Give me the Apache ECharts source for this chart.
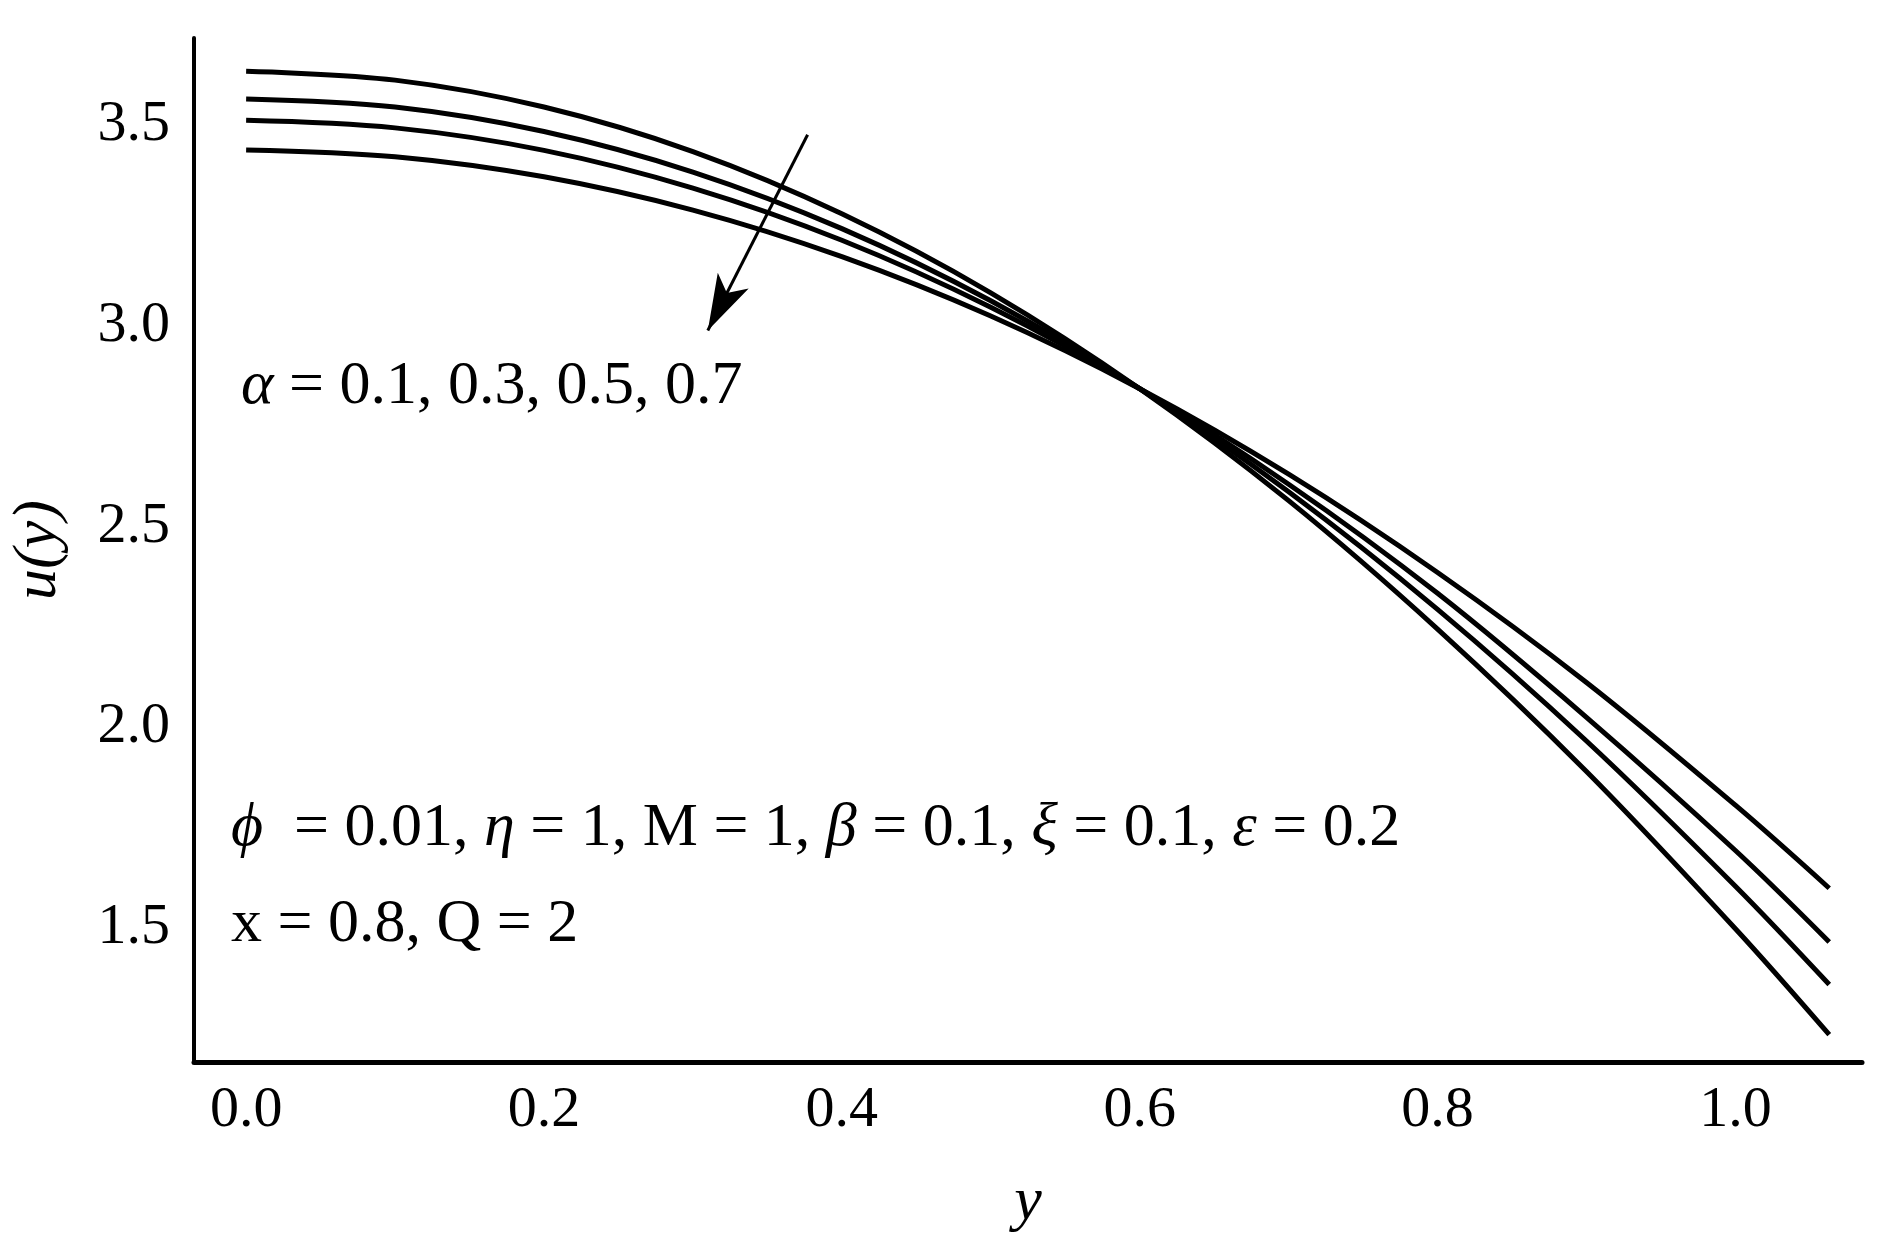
<!DOCTYPE html>
<html><head><meta charset="utf-8">
<script src="https://cdn.jsdelivr.net/npm/echarts@6/dist/echarts.min.js"></script>
<style>html,body{margin:0;background:#fff}#main{width:1877px;height:1239px}</style>
</head><body><div id="main"></div>
<script>
var yVals = [0, 0.1, 0.2, 0.3, 0.4, 0.5, 0.6, 0.7, 0.8, 0.9, 1.0, 1.063];
var uA01 = [3.634, 3.612, 3.545, 3.434, 3.279, 3.082, 2.843, 2.564, 2.244, 1.889, 1.497, 1.233];
var uA03 = [3.565, 3.545, 3.484, 3.383, 3.242, 3.062, 2.843, 2.586, 2.293, 1.965, 1.603, 1.358];
var uA05 = [3.512, 3.493, 3.437, 3.343, 3.213, 3.046, 2.843, 2.605, 2.333, 2.024, 1.692, 1.464];
var uA07 = [3.438, 3.421, 3.371, 3.288, 3.172, 3.024, 2.843, 2.630, 2.385, 2.111, 1.805, 1.598];
var arrowFrom = [0.377, 3.476], arrowTo = [0.310, 2.988];

var font = '"Liberation Serif", "DejaVu Serif", serif';
function pairs(v) { return yVals.map(function (x, i) { return [x, v[i]]; }); }
function line(v) {
  return { type: 'line', data: pairs(v), smooth: 0.35, showSymbol: false,
    lineStyle: { color: '#000', width: 5 } };
}
var chart = echarts.init(document.getElementById('main'));
var series = [line(uA01), line(uA03), line(uA05), line(uA07)];
series[0].markLine = {
  silent: true, symbol: ['none', 'arrow'], symbolSize: [26, 56],
  label: { show: false },
  lineStyle: { color: '#000', width: 3, type: 'solid' },
  data: [[{ coord: arrowFrom }, { coord: arrowTo }]]
};
var tickFont = { fontFamily: font, fontSize: 58, color: '#000' };
var rich = { i: { fontStyle: 'italic', fontFamily: font, fontSize: 62 } };
chart.setOption({
  animation: false,
  grid: { left: 178, right: 15, top: 38, bottom: 165 },
  xAxis: { type: 'value', min: -0.035, max: 1.085, interval: 0.2,
    name: 'y', nameLocation: 'middle', nameGap: 110,
    nameTextStyle: { fontFamily: font, fontSize: 62, fontStyle: 'italic', color: '#000' },
    axisLine: { onZero: false, lineStyle: { color: '#000', width: 5 } },
    axisTick: { show: false }, splitLine: { show: false },
    axisLabel: Object.assign({ margin: 20, customValues: [0, 0.2, 0.4, 0.6, 0.8, 1.0],
      formatter: function (v) { return v.toFixed(1); } }, tickFont) },
  yAxis: { type: 'value', min: 1.165, max: 3.717,
    name: 'u(y)', nameLocation: 'middle', nameGap: 124,
    nameTextStyle: { fontFamily: font, fontSize: 62, fontStyle: 'italic', color: '#000' },
    axisLine: { onZero: false, lineStyle: { color: '#000', width: 4 } },
    axisTick: { show: false }, splitLine: { show: false },
    axisLabel: Object.assign({ margin: 24, customValues: [1.5, 2.0, 2.5, 3.0, 3.5],
      formatter: function (v) { return v.toFixed(1); } }, tickFont) },
  graphic: [
    { type: 'text', left: 241, top: 356, style: { text: '{i|α} = 0.1, 0.3, 0.5, 0.7',
      fontFamily: font, fontSize: 62, fill: '#000', rich: rich } },
    { type: 'text', left: 231, top: 798, style: { text: '{i|ϕ}  = 0.01, {i|η} = 1, M = 1, {i|β} = 0.1, {i|ξ} = 0.1, {i|ε} = 0.2',
      fontFamily: font, fontSize: 62, fill: '#000', rich: rich } },
    { type: 'text', left: 231, top: 894, style: { text: 'x = 0.8, Q = 2',
      fontFamily: font, fontSize: 62, fill: '#000' } }
  ],
  series: series
});
</script></body></html>
